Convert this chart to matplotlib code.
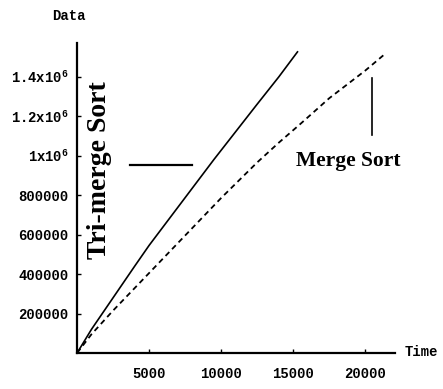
import numpy as np
import matplotlib
matplotlib.use("Agg")
import matplotlib.pyplot as plt

# values
tri_time = [0, 1000, 2500, 4000, 5000, 6500, 8000, 9500, 11000, 12500, 14000, 15300]
tri_data = [0, 120000, 280000, 440000, 545000, 690000, 835000, 980000,
            1120000, 1260000, 1398000, 1525000]

merge_time = [0, 1000, 2500, 5000, 7500, 10000, 12500, 14000, 15500, 17500, 20000, 21300]
merge_data = [0, 95000, 215000, 405000, 595000, 785000, 965000, 1065000,
              1160000, 1290000, 1430000, 1510000]

x_ticks = [5000, 10000, 15000, 20000]
x_labels = ["5000", "10000", "15000", "20000"]
y_ticks = [200000, 400000, 600000, 800000, 1000000, 1200000, 1400000]
y_labels = ["200000", "400000", "600000", "800000",
            "1x10$^{6}$", "1.2x10$^{6}$", "1.4x10$^{6}$"]

plt.rcParams['mathtext.fontset'] = 'custom'
plt.rcParams['mathtext.rm'] = 'Liberation Mono:bold'
plt.rcParams['mathtext.it'] = 'Liberation Mono:bold'
plt.rcParams['mathtext.bf'] = 'Liberation Mono:bold'

mono = dict(family='Liberation Mono', weight='bold')
serif = dict(family='Liberation Serif', weight='bold')

fig = plt.figure(figsize=(4.43, 3.89), dpi=100)
ax = fig.add_axes([0.174, 0.0925, 0.718, 0.797])

ax.plot(tri_time, tri_data, color='black', linewidth=1.2)
ax.plot(merge_time, merge_data, color='black', linewidth=1.3, dashes=(3.0, 2.2))

ax.set_xlim(0, 22080)
ax.set_ylim(0, 1570000)
for side in ['top', 'right']:
    ax.spines[side].set_visible(False)
for side in ['left', 'bottom']:
    ax.spines[side].set_linewidth(1.6)

ax.set_xticks(x_ticks)
ax.set_xticklabels(x_labels, fontsize=10, **mono)
ax.set_yticks(y_ticks)
ax.set_yticklabels(y_labels, fontsize=10, **mono)
ax.tick_params(direction='in', length=3, width=1)
ax.tick_params(axis='x', pad=10)
ax.tick_params(axis='y', pad=6)

# curve labels with leader lines
ax.text(0.072, 0.59, "Tri-merge Sort", rotation=90, fontsize=20,
        ha='center', va='center', transform=ax.transAxes, **serif)
ax.plot([0.167, 0.362], [0.606, 0.606], color='black', linewidth=1.6,
        transform=ax.transAxes)
ax.text(0.854, 0.62, "Merge Sort", fontsize=15.5, ha='center', va='center',
        transform=ax.transAxes, **serif)
ax.plot([0.928, 0.928], [0.703, 0.887], color='black', linewidth=1.2,
        transform=ax.transAxes)

fig.text(0.156, 0.959, "Data", fontsize=10, ha='center', va='center', **mono)
fig.text(0.914, 0.095, "Time", fontsize=10, ha='left', va='center', **mono)

fig.savefig("out.png", dpi=100)
